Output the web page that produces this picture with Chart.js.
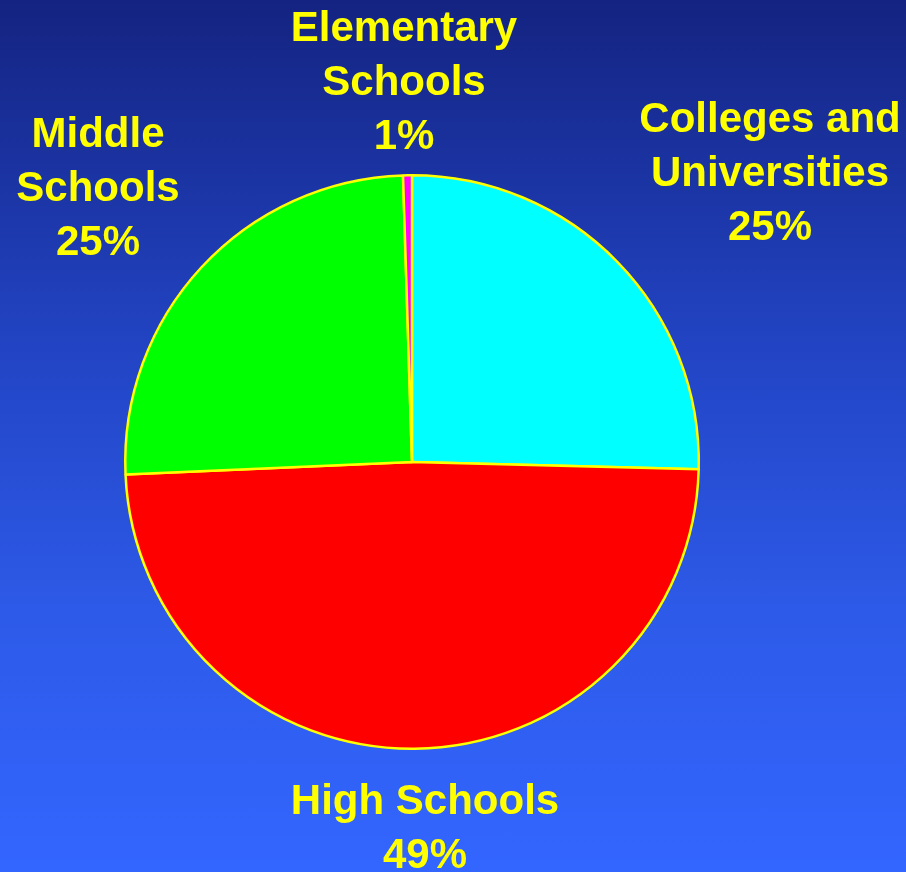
<!DOCTYPE html>
<html>
<head>
<meta charset="utf-8">
<script src="https://cdn.jsdelivr.net/npm/chart.js@4/dist/chart.umd.min.js"></script>
<style>
  html, body { margin: 0; padding: 0; }
  body {
    width: 906px; height: 872px; overflow: hidden;
    background: linear-gradient(to bottom, #142381 0%, #2244c4 40%, #2d5ae8 70%, #3366ff 100%);
  }
  #wrap { width: 906px; height: 872px; }
</style>
</head>
<body>
<div id="wrap"><canvas id="myChart"></canvas></div>
<script>
// Data, clockwise from 12 o'clock
const categories = [
  ['Colleges and', 'Universities'],
  ['High Schools'],
  ['Middle', 'Schools'],
  ['Elementary', 'Schools'],
];
const shares = [25.4, 48.9, 25.2, 0.5];
const sliceColors = ['#00ffff', '#ff0000', '#00ff00', '#ff00ff'];

// Where each label block sits (center x, first line center y)
const labelSpots = [
  { x: 770, y: 120 },
  { x: 425, y: 802 },
  { x: 98, y: 135 },
  { x: 404, y: 29 },
];

const labelPlugin = {
  id: 'sliceLabels',
  afterDraw(chart) {
    const ctx = chart.ctx;
    const vals = chart.data.datasets[0].data;
    ctx.save();
    ctx.fillStyle = '#ffff00';
    ctx.font = 'bold 42px "Liberation Sans", Arial, sans-serif';
    ctx.textAlign = 'center';
    ctx.textBaseline = 'middle';
    chart.data.labels.forEach((lines, i) => {
      const spot = labelSpots[i];
      const all = lines.concat([Math.round(vals[i]) + '%']);
      all.forEach((t, j) => ctx.fillText(t, spot.x, spot.y + j * 54));
    });
    ctx.restore();
  }
};

const config = {
  type: 'pie',
  data: {
    labels: categories,
    datasets: [{
      data: shares,
      backgroundColor: sliceColors,
      borderColor: '#ffff00',
      borderWidth: 2.5,
    }],
  },
  options: {
    responsive: true,
    maintainAspectRatio: false,
    animation: false,
    layout: {
      padding: { left: 124, right: 206, top: 174, bottom: 122 },
    },
    plugins: {
      legend: { display: false },
      tooltip: { enabled: false },
    },
  },
  plugins: [labelPlugin],
};

const myChart = new Chart(document.getElementById('myChart'), config);
</script>
</body>
</html>
